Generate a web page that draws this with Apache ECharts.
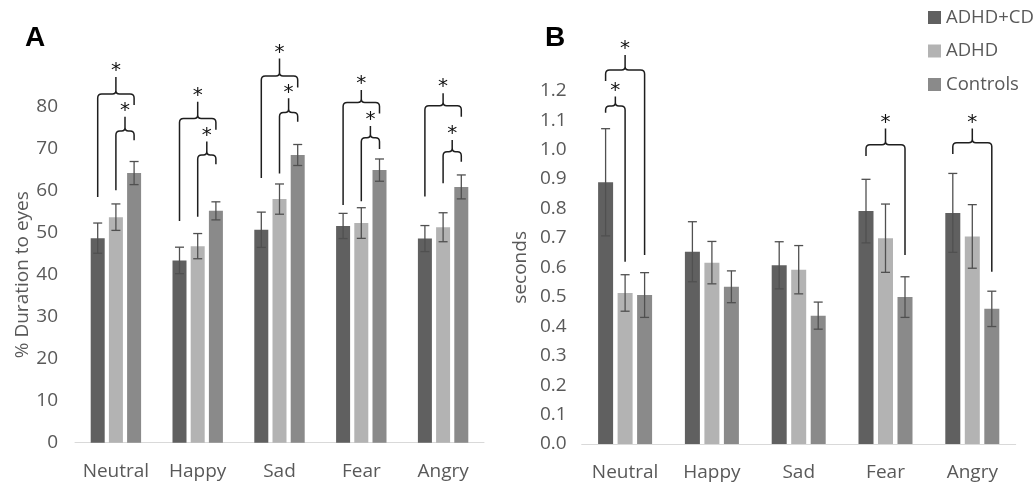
<!DOCTYPE html>
<html>
<head>
<meta charset="utf-8">
<script src="https://cdn.jsdelivr.net/npm/echarts@6/dist/echarts.min.js"></script>
<style>
html,body{margin:0;padding:0;background:#fff;}
#chart{width:1035px;height:485px;}
</style>
</head>
<body>
<div id="chart"></div>
<script>
// ---------- data ----------
const categories = ['Neutral', 'Happy', 'Sad', 'Fear', 'Angry'];
const groups = ['ADHD+CD', 'ADHD', 'Controls'];

// Panel A: % duration to eyes
const durAdhdCd   = [48.7, 43.4, 50.7, 51.6, 48.6];
const durAdhd     = [53.7, 46.8, 58.0, 52.3, 51.3];
const durControls = [64.2, 55.2, 68.5, 64.9, 60.9];
const durErrAdhdCd   = [3.6, 3.15, 4.2, 3.0, 3.1];
const durErrAdhd     = [3.15, 3.0, 3.6, 3.65, 3.45];
const durErrControls = [2.75, 2.15, 2.5, 2.65, 2.85];

// Panel B: seconds
const secAdhdCd   = [0.889, 0.653, 0.607, 0.791, 0.785];
const secAdhd     = [0.513, 0.616, 0.592, 0.699, 0.705];
const secControls = [0.506, 0.534, 0.436, 0.499, 0.459];
const secErrAdhdCd   = [0.182, 0.102, 0.080, 0.108, 0.134];
const secErrAdhd     = [0.062, 0.072, 0.082, 0.116, 0.108];
const secErrControls = [0.076, 0.054, 0.046, 0.069, 0.060];

// significance brackets: [category, fromGroup, toGroup, leftLegBottom, rightLegBottom, braceLevel, peakTop]
const bracketsA = [
  [0, 0, 2, 58.5, 80.4, 83.0, 87.1],
  [0, 1, 2, 60.1, 72.0, 74.2, 77.6],
  [1, 0, 2, 52.8, 74.5, 77.2, 81.2],
  [1, 1, 2, 53.8, 66.3, 68.5, 71.7],
  [2, 0, 2, 63.0, 84.6, 87.3, 91.5],
  [2, 1, 2, 64.1, 76.4, 78.6, 82.0],
  [3, 0, 2, 56.6, 78.4, 81.0, 84.0],
  [3, 1, 2, 57.5, 69.9, 72.6, 75.4],
  [4, 0, 2, 58.6, 77.6, 80.2, 83.2],
  [4, 1, 2, 61.8, 66.9, 69.3, 72.1]
];
const bracketsB = [
  [0, 0, 2, 1.233, 0.642, 1.270, 1.321],
  [0, 0, 1, 1.125, 0.619, 1.148, 1.180],
  [3, 0, 2, 0.978, 0.642, 1.016, 1.072],
  [4, 0, 2, 0.985, 0.585, 1.023, 1.072]
];
const yTicksA = [0, 10, 20, 30, 40, 50, 60, 70, 80];
const yTicksB = [0, 0.1, 0.2, 0.3, 0.4, 0.5, 0.6, 0.7, 0.8, 0.9, 1.0, 1.1, 1.2];

// ---------- style ----------
const colors = ['#606060', '#b3b3b3', '#8a8a8a'];
const FONT = 'Open Sans';
const FS = 19;
const TXT = '#595959';
const BAR_W = [14, 15];
const BAR_GAP = 0.3;

const chart = echarts.init(document.getElementById('chart'), null, {renderer: 'canvas'});

function errSeries(panel, g, vals, errs) {
  const spacing = BAR_W[panel] * (1 + BAR_GAP);
  return {
    type: 'custom', xAxisIndex: panel, yAxisIndex: panel, silent: true, z: 5,
    data: vals.map((v, i) => [i, v - errs[i], v + errs[i]]),
    encode: {x: 0, y: [1, 2]},
    renderItem: function (params, api) {
      const lo = api.coord([api.value(0), api.value(1)]);
      const hi = api.coord([api.value(0), api.value(2)]);
      const x = lo[0] + (g - 1) * spacing;
      const cw = 4.5;
      const st = {stroke: '#505050', lineWidth: 1.3};
      return {type: 'group', children: [
        {type: 'line', shape: {x1: x, y1: lo[1], x2: x, y2: hi[1]}, style: st},
        {type: 'line', shape: {x1: x - cw, y1: lo[1], x2: x + cw, y2: lo[1]}, style: st},
        {type: 'line', shape: {x1: x - cw, y1: hi[1], x2: x + cw, y2: hi[1]}, style: st}
      ]};
    }
  };
}

function bracketSeries(panel, data) {
  const spacing = BAR_W[panel] * (1 + BAR_GAP);
  return {
    type: 'custom', xAxisIndex: panel, yAxisIndex: panel, silent: true, z: 6, clip: false,
    data: data,
    encode: {x: 0, y: 6},
    renderItem: function (params, api) {
      const c = api.value(0);
      const xl = api.coord([c, 0])[0] + (api.value(1) - 1) * spacing;
      const xr = api.coord([c, 0])[0] + (api.value(2) - 1) * spacing;
      const yl = api.coord([c, api.value(3)])[1];
      const yr = api.coord([c, api.value(4)])[1];
      const hy = api.coord([c, api.value(5)])[1];
      const pt = api.coord([c, api.value(6)])[1];
      const px = (xl + xr) / 2;
      const r = 4, r2 = 3.5;
      const d = 'M' + xl + ' ' + yl +
        ' L' + xl + ' ' + (hy + r) +
        ' Q' + xl + ' ' + hy + ' ' + (xl + r) + ' ' + hy +
        ' L' + (px - r2) + ' ' + hy +
        ' Q' + px + ' ' + hy + ' ' + px + ' ' + (hy - r2) +
        ' L' + px + ' ' + pt +
        ' M' + px + ' ' + (hy - r2) +
        ' Q' + px + ' ' + hy + ' ' + (px + r2) + ' ' + hy +
        ' L' + (xr - r) + ' ' + hy +
        ' Q' + xr + ' ' + hy + ' ' + xr + ' ' + (hy + r) +
        ' L' + xr + ' ' + yr;
      return {type: 'group', children: [
        {type: 'path', shape: {pathData: d}, style: {stroke: '#1e1e1e', lineWidth: 1.5, fill: null}},
        {type: 'text', x: px, y: pt - 16, style: {text: '*', fill: '#111', font: '20px "DejaVu Sans"', align: 'center', verticalAlign: 'top'}}
      ]};
    }
  };
}

function barSeries(panel, g, vals) {
  return {
    name: groups[g], type: 'bar', xAxisIndex: panel, yAxisIndex: panel,
    data: vals, barWidth: BAR_W[panel], barGap: (BAR_GAP * 100) + '%',
    itemStyle: {color: colors[g]}, silent: true, z: 2
  };
}

const xAxisCommon = {
  type: 'category', data: categories,
  axisLine: {lineStyle: {color: '#d9d9d9', width: 1}},
  axisTick: {show: false},
  axisLabel: {color: TXT, fontFamily: FONT, fontSize: FS, margin: 19, interval: 0}
};

const option = {
  animation: false,
  backgroundColor: '#fff',
  title: [
    {text: 'A', left: 20, top: 19, textStyle: {fontFamily: 'Liberation Sans', fontWeight: 'bold', fontSize: 28, color: '#000'}},
    {text: 'B', left: 540, top: 19, textStyle: {fontFamily: 'Liberation Sans', fontWeight: 'bold', fontSize: 28, color: '#000'}}
  ],
  legend: {
    data: groups, orient: 'vertical', left: 923, top: 3,
    icon: 'rect', itemWidth: 13, itemHeight: 13, itemGap: 14.5,
    textStyle: {color: TXT, fontFamily: FONT, fontSize: 18.5}
  },
  grid: [
    {left: 75, right: 551, top: 106.7, bottom: 42.3},
    {left: 581.7, right: 19.3, top: 90.7, bottom: 41}
  ],
  xAxis: [
    Object.assign({gridIndex: 0}, xAxisCommon),
    Object.assign({gridIndex: 1}, xAxisCommon)
  ],
  yAxis: [
    {
      type: 'value', gridIndex: 0, min: yTicksA[0], max: yTicksA[yTicksA.length - 1], interval: 10,
      name: '% Duration to eyes', nameLocation: 'middle', nameGap: 42,
      nameTextStyle: {color: TXT, fontFamily: FONT, fontSize: FS},
      axisLine: {show: false}, axisTick: {show: false}, splitLine: {show: false},
      axisLabel: {color: TXT, fontFamily: FONT, fontSize: FS, margin: 17}
    },
    {
      type: 'value', gridIndex: 1, min: yTicksB[0], max: yTicksB[yTicksB.length - 1], interval: 0.1,
      name: 'seconds', nameLocation: 'middle', nameGap: 52,
      nameTextStyle: {color: TXT, fontFamily: FONT, fontSize: FS},
      axisLine: {show: false}, axisTick: {show: false}, splitLine: {show: false},
      axisLabel: {color: TXT, fontFamily: FONT, fontSize: FS, margin: 15, formatter: v => v.toFixed(1)}
    }
  ],
  series: [
    barSeries(0, 0, durAdhdCd), barSeries(0, 1, durAdhd), barSeries(0, 2, durControls),
    barSeries(1, 0, secAdhdCd), barSeries(1, 1, secAdhd), barSeries(1, 2, secControls),
    errSeries(0, 0, durAdhdCd, durErrAdhdCd), errSeries(0, 1, durAdhd, durErrAdhd), errSeries(0, 2, durControls, durErrControls),
    errSeries(1, 0, secAdhdCd, secErrAdhdCd), errSeries(1, 1, secAdhd, secErrAdhd), errSeries(1, 2, secControls, secErrControls),
    bracketSeries(0, bracketsA), bracketSeries(1, bracketsB)
  ]
};
chart.setOption(option);
</script>
</body>
</html>
